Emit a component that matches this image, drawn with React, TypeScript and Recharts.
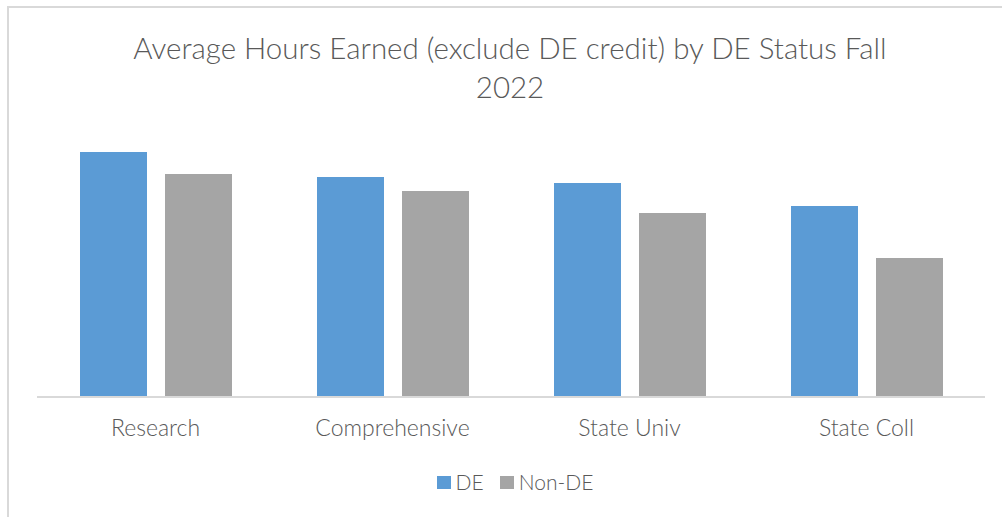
import React from "react";
import { Bar, BarChart, XAxis, YAxis } from "recharts";

const categories = ["Research", "Comprehensive", "State Univ", "State Coll"];
const deHours = [24.5, 22.0, 21.4, 19.1];
const nonDeHours = [22.3, 20.6, 18.4, 13.9];

const data = categories.map((name, i) => ({
  name,
  DE: deHours[i],
  "Non-DE": nonDeHours[i],
}));

const FONT = "Lato, 'Open Sans', sans-serif";
const TEXT = "#595959";

const legendItems = [
  { label: "DE", color: "#5b9bd5" },
  { label: "Non-DE", color: "#a5a5a5" },
];

function ChartLegend() {
  return (
    <div
      style={{
        position: "absolute",
        left: 0,
        top: 468,
        width: 1030,
        display: "flex",
        justifyContent: "center",
        alignItems: "center",
        fontFamily: FONT,
        fontWeight: 300,
        fontSize: 21,
        lineHeight: "28px",
        color: TEXT,
      }}
    >
      {legendItems.map((item, i) => (
        <div
          key={item.label}
          style={{
            display: "flex",
            alignItems: "center",
            marginRight: i === legendItems.length - 1 ? 0 : 16,
          }}
        >
          <span
            style={{
              width: 14,
              height: 13,
              background: item.color,
              display: "inline-block",
              marginRight: 5,
            }}
          />
          <span>{item.label}</span>
        </div>
      ))}
    </div>
  );
}

export default function App() {
  return (
    <div
      style={{
        position: "absolute",
        left: 0,
        top: 0,
        width: 1002,
        height: 517,
        overflow: "hidden",
        background: "#fff",
      }}
    >
      <div
        style={{
          position: "absolute",
          left: 7,
          top: 6,
          width: 1020,
          height: 540,
          border: "2px solid #d9d9d9",
        }}
      />
      <div
        style={{
          position: "absolute",
          left: 0,
          top: 28,
          width: 1020,
          textAlign: "center",
          fontFamily: FONT,
          fontWeight: 300,
          fontSize: 29.5,
          lineHeight: "39px",
          color: TEXT,
        }}
      >
        Average Hours Earned (exclude DE credit) by DE Status Fall
        <br />
        2022
      </div>
      <BarChart
        width={1002}
        height={517}
        data={data}
        barGap={18}
        margin={{ top: 97, right: 17, bottom: 60, left: 37 }}
        style={{ position: "absolute", left: 0, top: 0 }}
      >
        <XAxis
          dataKey="name"
          height={60}
          axisLine={{ stroke: "#d9d9d9", strokeWidth: 2 }}
          tickLine={false}
          tickMargin={17}
          tick={{ fill: TEXT, fontSize: 23, fontFamily: FONT, fontWeight: 300 }}
        />
        <YAxis hide domain={[0, 30]} />
        <Bar dataKey="DE" fill="#5b9bd5" barSize={67} isAnimationActive={false} />
        <Bar
          dataKey="Non-DE"
          fill="#a5a5a5"
          barSize={67}
          isAnimationActive={false}
        />
      </BarChart>
      <ChartLegend />
    </div>
  );
}
